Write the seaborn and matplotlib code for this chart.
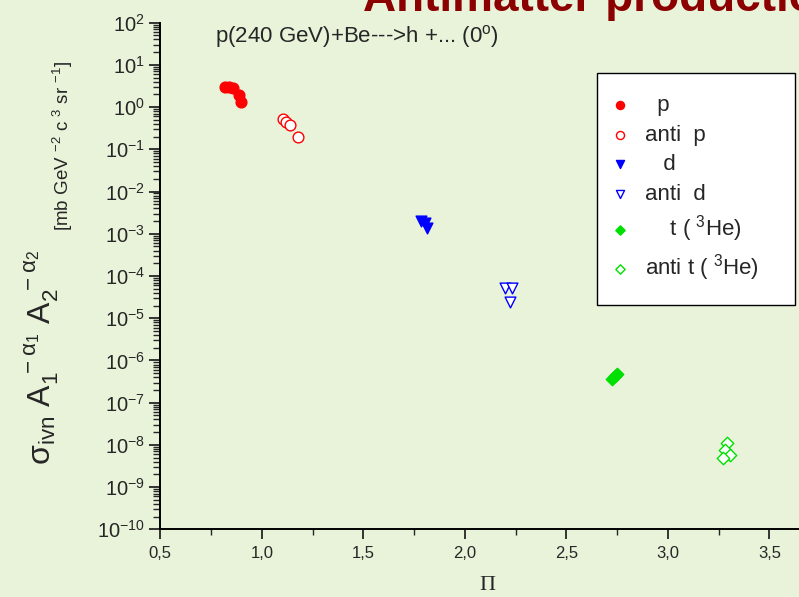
import numpy as np
import pandas as pd
import matplotlib.pyplot as plt
import seaborn as sns
from matplotlib.ticker import LogLocator, NullFormatter, FixedLocator, MultipleLocator

# data (x = Pi, y = invariant cross section scaled)
p_x = [0.82, 0.84, 0.86, 0.888, 0.898]
p_y = [3.0, 2.95, 2.85, 1.95, 1.34]
antip_x = [1.103, 1.119, 1.137, 1.177]
antip_y = [0.52, 0.44, 0.38, 0.195]
d_x = [1.784, 1.804, 1.814]
d_y = [2.0e-3, 1.8e-3, 1.35e-3]
antid_x = [2.198, 2.232, 2.221]
antid_y = [5.1e-5, 5.1e-5, 2.45e-5]
t_x = [2.725, 2.738, 2.75]
t_y = [3.7e-7, 4.3e-7, 4.9e-7]
antit_x = [3.290, 3.283, 3.306, 3.270]
antit_y = [1.1e-8, 7.5e-9, 5.6e-9, 4.8e-9]

xtick_vals = [0.5, 1.0, 1.5, 2.0, 2.5, 3.0, 3.5]
xtick_labels = ['0,5', '1,0', '1,5', '2,0', '2,5', '3,0', '3,5']

bg = '#e8f3da'

sns.set_style("ticks")
plt.rcParams['font.family'] = ['Liberation Sans', 'DejaVu Sans']
plt.rcParams['mathtext.default'] = 'regular'

fig = plt.figure(figsize=(7.99, 5.97), dpi=100, facecolor=bg)
ax = fig.add_axes([0.2006, 0.1134, 0.7994, 0.8486], facecolor=bg)

series = [
    (p_x, p_y, 'o', 'red', True, '  p'),
    (antip_x, antip_y, 'o', 'red', False, 'anti  p'),
    (d_x, d_y, 'v', 'blue', True, '   d'),
    (antid_x, antid_y, 'v', 'blue', False, 'anti  d'),
    (t_x, t_y, 'D', '#00e000', True, '    t ( $^{3}$He)'),
    (antit_x, antit_y, 'D', '#00e000', False, 'anti t ( $^{3}$He)'),
]

for xs, ys, m, c, filled, lab in series:
    df = pd.DataFrame({'x': xs, 'y': ys})
    size = 40 if m == 'D' else 60
    sns.scatterplot(data=df, x='x', y='y', ax=ax, marker=m, s=size,
                    color=c, facecolor=(c if filled else 'white'),
                    edgecolor=c, linewidth=1.0, label=lab, legend=False, zorder=3)

ax.set_yscale('log')
ax.set_ylim(1e-10, 1e2)
ax.set_xlim(0.5, 3.646)
ax.yaxis.set_major_locator(LogLocator(base=10, numticks=30))
ax.yaxis.set_minor_locator(LogLocator(base=10, subs=np.arange(2, 10), numticks=200))
ax.yaxis.set_minor_formatter(NullFormatter())
ax.xaxis.set_major_locator(FixedLocator(xtick_vals))
ax.set_xticklabels(xtick_labels)
ax.xaxis.set_minor_locator(MultipleLocator(0.25))

for s in ['top', 'right']:
    ax.spines[s].set_visible(False)
for s in ['left', 'bottom']:
    ax.spines[s].set_linewidth(1.4)
    ax.spines[s].set_color('black')
ax.tick_params(axis='y', which='major', length=8, width=1.3, labelsize=14.5, pad=3)
ax.tick_params(axis='y', which='minor', length=5, width=1.0)
ax.tick_params(axis='x', which='major', length=7, width=1.3, labelsize=12, pad=5)
ax.tick_params(axis='x', which='minor', length=4, width=1.0)
ax.set_xlabel('')
ax.set_ylabel('')

# axis labels
fig.text(487 / 799, 1 - 585 / 597, 'Π', family=['Liberation Serif', 'DejaVu Serif'],
         fontsize=16, ha='center', va='center')
fig.text(42 / 799, 1 - 357 / 597,
         r'σ$_{ivn}$ A$_1^{\ -α_{1}}$ A$_2^{\ -α_{2}}$',
         fontsize=23, rotation=90, ha='center', va='center')
fig.text(63 / 799, 1 - 146 / 597, r'[mb GeV $^{-2}$ c $^{3}$ sr $^{-1}$]',
         fontsize=13.5, rotation=90, ha='center', va='center')

# titles
fig.text(363 / 799, 1 - 11 / 597, 'Antimatter production', color='#8b0000',
         fontsize=33, fontweight='bold', ha='left', va='baseline')
fig.text(215 / 799, 1 - 42 / 597, r'p(240 GeV)+Be--->h +... (0$^{o}$)',
         fontsize=16, ha='left', va='baseline')

leg = ax.legend(loc='upper left', bbox_to_anchor=(597 / 799, 1 - 73 / 597 - 0.05, 198 / 799, 0.05),
                bbox_transform=fig.transFigure, mode='expand', fontsize=16,
                frameon=True, fancybox=False, edgecolor='black', facecolor='white',
                framealpha=1, borderpad=1.0, labelspacing=0.38, handlelength=0.05,
                handletextpad=1.1, markerscale=0.75, borderaxespad=0)
leg.get_frame().set_linewidth(1.0)

fig.savefig('out.png', dpi=100, facecolor=bg)
